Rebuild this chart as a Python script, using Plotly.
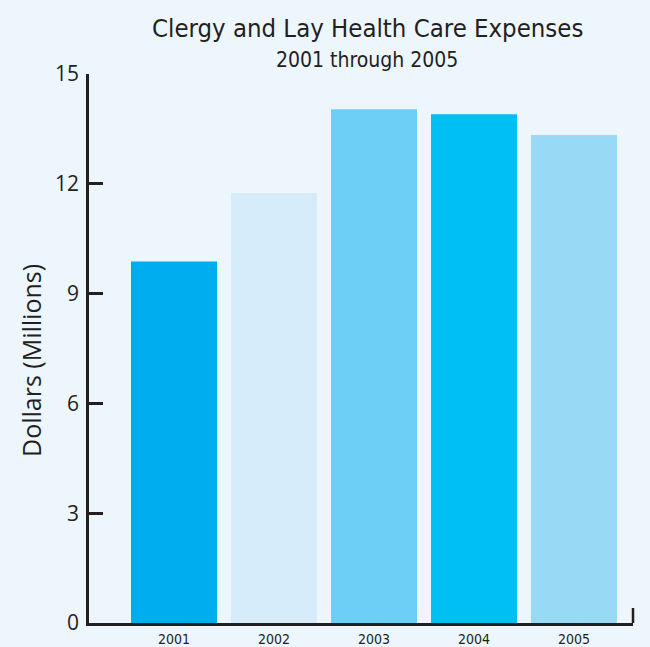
import plotly.graph_objects as go

years = ["2001", "2002", "2003", "2004", "2005"]
expenses = [9.88, 11.75, 14.04, 13.9, 13.33]
bar_colors = ["#00aeef", "#d6ecfa", "#6dcff6", "#00bff3", "#98d9f6"]
y_ticks = [0, 3, 6, 9, 12, 15]

cond_font = "DejaVu Sans Condensed, Roboto, sans-serif"

fig = go.Figure()
fig.add_trace(go.Bar(
    x=list(range(len(years))), y=expenses,
    marker=dict(color=bar_colors, line=dict(width=0)),
    width=0.86, hoverinfo="skip",
))

axis_color = "#231f20"
plot_w, plot_h = 544, 549
fig.update_layout(
    width=650, height=647,
    margin=dict(l=89, r=17, t=74, b=24),
    paper_bgcolor="#edf6fd", plot_bgcolor="rgba(0,0,0,0)",
    showlegend=False,
    xaxis=dict(
        range=[-0.85, 4.59], tickmode="array", tickvals=list(range(len(years))),
        ticktext=years, showgrid=False, zeroline=False, automargin=False,
        showline=True, linecolor=axis_color, linewidth=2.5, ticks="",
        ticklabelstandoff=1,
        tickfont=dict(family=cond_font, size=14, color=axis_color),
    ),
    yaxis=dict(
        range=[0, 15], tickvals=y_ticks, showgrid=False, zeroline=False, automargin=False,
        showline=True, linecolor=axis_color, linewidth=2.5,
        ticks="inside", ticklen=14, tickwidth=2.5, tickcolor=axis_color,
        ticklabelstandoff=3,
        tickfont=dict(family="Open Sans", size=21, color=axis_color),
    ),
    annotations=[
        dict(text="Clergy and Lay Health Care Expenses", xref="paper", yref="paper",
             x=(367 - 89) / plot_w, y=1 + (74 - 28) / plot_h, showarrow=False,
             xanchor="center", yanchor="middle",
             font=dict(family=cond_font, size=25.5, color=axis_color)),
        dict(text="2001 through 2005", xref="paper", yref="paper",
             x=(367 - 89) / plot_w, y=1 + (74 - 60) / plot_h, showarrow=False,
             xanchor="center", yanchor="middle",
             font=dict(family=cond_font, size=21, color=axis_color)),
        dict(text="Dollars (Millions)", xref="paper", yref="paper",
             x=(31 - 89) / plot_w, y=(623 - 361) / plot_h, showarrow=False,
             xanchor="center", yanchor="middle", textangle=-90,
             font=dict(family="Open Sans", size=25, color=axis_color)),
    ],
    shapes=[
        dict(type="line", xref="paper", yref="paper", x0=1, x1=1,
             y0=0, y1=15 / plot_h, line=dict(color=axis_color, width=2.5)),
    ],
)

fig.write_html("out.html")
